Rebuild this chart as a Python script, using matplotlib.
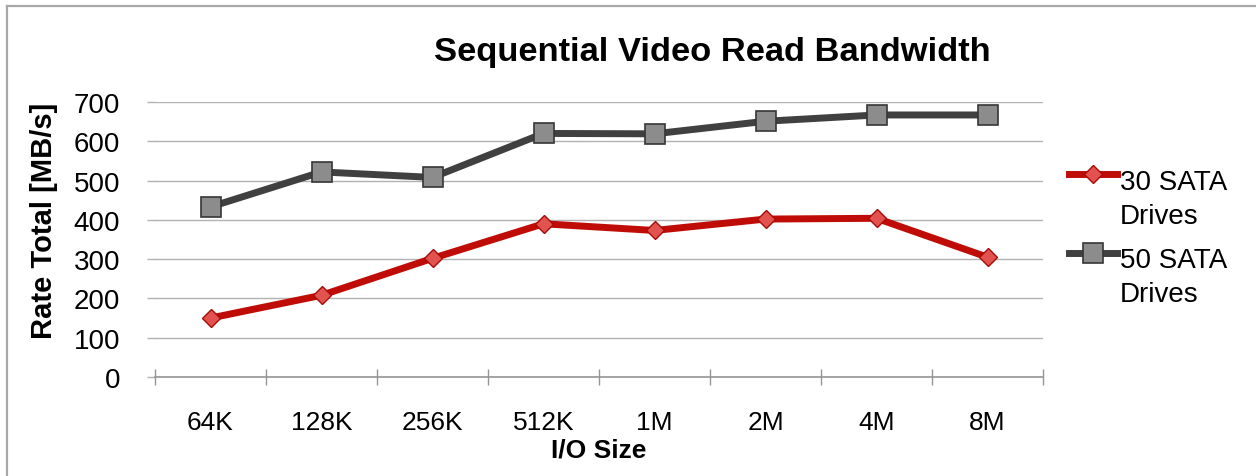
import matplotlib
matplotlib.use("Agg")
import matplotlib.pyplot as plt
from matplotlib.lines import Line2D

plt.rcParams['font.family'] = ['Liberation Sans', 'DejaVu Sans']

io_sizes = ["64K", "128K", "256K", "512K", "1M", "2M", "4M", "8M"]
drives_30 = [150, 208, 302, 390, 373, 402, 404, 305]
drives_50 = [433, 522, 508, 620, 619, 651, 667, 667]
series_labels = ["30 SATA\nDrives", "50 SATA\nDrives"]
y_ticks = [0, 100, 200, 300, 400, 500, 600, 700]

red_line, red_fill, red_edge = "#bf0c06", "#e2524e", "#a80a08"
gray_line, gray_fill, gray_edge = "#404040", "#8c8c8c", "#363636"
grid_col = "#b2b2b2"

fig = plt.figure(figsize=(12.56, 4.77), dpi=100)
ax = fig.add_axes([155 / 1256, 1 - 378 / 477, 888 / 1256, 275 / 477])

x = list(range(len(io_sizes)))
style_30 = dict(color=red_line, lw=5, marker="D", ms=9.5,
                mfc=red_fill, mec=red_edge, mew=1.0, solid_joinstyle="round")
style_50 = dict(color=gray_line, lw=5, marker="s", ms=14,
                mfc=gray_fill, mec=gray_edge, mew=1.2, solid_joinstyle="round")
ax.plot(x, drives_50, zorder=3, **style_50)
ax.plot(x, drives_30, zorder=4, **style_30)

ax.set_xlim(-0.5, len(io_sizes) - 0.5)
ax.set_ylim(0, 700)
ax.set_yticks(y_ticks)
ax.set_yticklabels([str(v) for v in y_ticks], fontsize=20)
ax.yaxis.grid(True, color=grid_col, lw=1.0)
ax.set_axisbelow(True)
ax.tick_params(axis="y", direction="out", length=6, width=1.0, color=grid_col, pad=19)

ax.set_xticks(x)
ax.set_xticklabels(io_sizes, fontsize=19)
ax.set_xticks([i - 0.5 for i in range(len(io_sizes) + 1)], minor=True)
ax.tick_params(axis="x", which="major", length=0, pad=24)
ax.tick_params(axis="x", which="minor", direction="inout", length=12, width=1.0, color="#959595")

for side in ("left", "right", "top"):
    ax.spines[side].set_visible(False)
ax.spines["bottom"].set_color("#959595")
ax.spines["bottom"].set_linewidth(1.2)

ax.set_ylabel("Rate Total [MB/s]", fontsize=21, fontweight="bold", labelpad=11, y=0.571)
ax.set_xlabel("I/O Size", fontsize=19, fontweight="bold", labelpad=2)
fig.text(712 / 1256, 1 - 53 / 477, "Sequential Video Read Bandwidth",
         fontsize=24.8, fontweight="bold", ha="center", va="center")

# legend drawn beside the plot, handle aligned with the first text line
legend_rows = [(style_30, 1 - 175 / 477, 1 - 224 / 477, series_labels[0]),
               (style_50, 1 - 254 / 477, 1 - 302 / 477, series_labels[1])]
for style, y_handle, y_text, label in legend_rows:
    st = dict(style)
    fig.add_artist(Line2D([1069 / 1256, 1117 / 1256], [y_handle, y_handle],
                          transform=fig.transFigure, markevery=[], **st))
    mk = dict(st)
    mk["lw"] = 0
    fig.add_artist(Line2D([1093 / 1256], [y_handle], transform=fig.transFigure,
                          **mk))
    fig.text(1120 / 1256, y_text, label, fontsize=20, ha="left", va="baseline",
             linespacing=1.4)

# outer frame lines on the top and left
fig.add_artist(Line2D([7 / 1256, 1], [1 - 7 / 477, 1 - 7 / 477],
                      transform=fig.transFigure, color="#a8a8a8", lw=1.6))
fig.add_artist(Line2D([7 / 1256, 7 / 1256], [0, 1 - 7 / 477],
                      transform=fig.transFigure, color="#a8a8a8", lw=1.6))

fig.savefig("out.png", dpi=100, facecolor="white")
